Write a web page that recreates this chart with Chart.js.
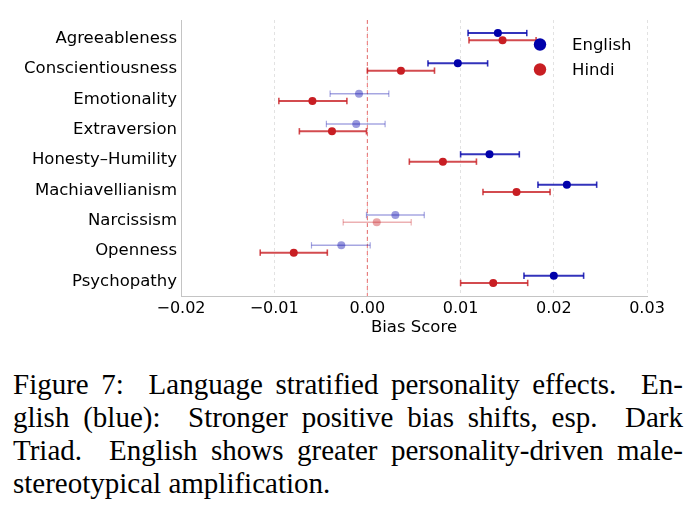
<!DOCTYPE html>
<html><head><meta charset="utf-8">
<script src="https://cdn.jsdelivr.net/npm/chart.js@4.4.0/dist/chart.umd.min.js"></script>
<style>
html,body{margin:0;padding:0;background:#fff;}
#wrap{position:relative;width:692px;height:525px;overflow:hidden;background:#fff;}
#cv{position:absolute;left:0;top:0;width:692px;height:345px;}
.cap{position:absolute;left:13px;width:670px;font-family:"Liberation Serif","Times New Roman",serif;font-size:29px;line-height:33px;color:#000;text-align:justify;text-align-last:justify;}
.last{text-align-last:left;}
</style></head><body>
<div id="wrap">
<div id="cv"><canvas id="c"></canvas></div>
<div class="cap" style="top:368px">Figure 7:&nbsp; Language stratified personality effects.&nbsp; En-</div>
<div class="cap" style="top:401px">glish (blue):&nbsp; Stronger positive bias shifts, esp.&nbsp; Dark</div>
<div class="cap" style="top:434px">Triad.&nbsp; English shows greater personality-driven male-</div>
<div class="cap last" style="top:467px">stereotypical amplification.</div>
</div>
<script>
const categories = ['Agreeableness','Conscientiousness','Emotionality','Extraversion','Honesty–Humility','Machiavellianism','Narcissism','Openness','Psychopathy'];
const englishMean = [0.0140, 0.0097, -0.0009, -0.0012, 0.0131, 0.0214, 0.0030, -0.0028, 0.0200];
const englishLow  = [0.0108, 0.0065, -0.0040, -0.0044, 0.0100, 0.0183, -0.0001, -0.0060, 0.0168];
const englishHigh = [0.0171, 0.0129, 0.0023, 0.0019, 0.0163, 0.0246, 0.0061, 0.0003, 0.0232];
const englishSig  = [true, true, false, false, true, true, false, false, true];
const hindiMean = [0.0145, 0.0036, -0.0059, -0.0038, 0.0081, 0.0160, 0.0010, -0.0079, 0.0135];
const hindiLow  = [0.0109, 0.0000, -0.0095, -0.0073, 0.0045, 0.0124, -0.0026, -0.0115, 0.0100];
const hindiHigh = [0.0181, 0.0072, -0.0022, -0.0001, 0.0117, 0.0196, 0.0047, -0.0043, 0.0172];
const hindiSig  = [true, true, true, true, true, true, false, true, true];
const xTickValues = [-0.02, -0.01, 0, 0.01, 0.02, 0.03];
const xTickLabels = ['−0.02', '−0.01', '0.00', '0.01', '0.02', '0.03'];
const seriesNames = ['English', 'Hindi'];

const OFF = 0.12;
const ENG = [0, 0, 170], HIN = [200, 30, 35];
const rgba = (c, a) => `rgba(${c[0]},${c[1]},${c[2]},${a})`;

const datasets = [];
function addSeries(name, col, mean, sig, off) {
  datasets.push({
    label: name,
    data: mean.map((v, i) => ({x: v, y: i + off})),
    backgroundColor: sig.map(s => rgba(col, s ? 1 : 0.4)),
    borderColor: sig.map(s => rgba(col, s ? 1 : 0.4)),
    borderWidth: 0, pointRadius: 4, pointStyle: 'circle', showLine: false, order: 0
  });
}
function addBars(col, mean, low, high, sig, off) {
  mean.forEach((v, i) => {
    const c = rgba(col, sig[i] ? 0.8 : 0.35);
    datasets.push({
      label: '_bar',
      data: [{x: low[i], y: i + off}, {x: high[i], y: i + off}],
      showLine: true, borderColor: c, borderWidth: sig[i] ? 2 : 1.5,
      pointStyle: 'line', rotation: 90, pointRadius: 3.2,
      pointBorderColor: c, pointBorderWidth: sig[i] ? 1.6 : 1.2,
      fill: false, order: 5
    });
  });
}
addSeries(seriesNames[0], ENG, englishMean, englishSig, -OFF);
addSeries(seriesNames[1], HIN, hindiMean, hindiSig, OFF);
addBars(ENG, englishMean, englishLow, englishHigh, englishSig, -OFF);
addBars(HIN, hindiMean, hindiLow, hindiHigh, hindiSig, OFF);

const decor = {
  id: 'decor',
  beforeDatasetsDraw(chart) {
    const {ctx, chartArea: a, scales: {x}} = chart;
    const px = x.getPixelForValue(0);
    ctx.save();
    ctx.strokeStyle = 'rgba(230,60,60,0.6)';
    ctx.lineWidth = 1.2;
    ctx.setLineDash([4, 3]);
    ctx.beginPath(); ctx.moveTo(px, a.top); ctx.lineTo(px, a.bottom); ctx.stroke();
    ctx.restore();
  },
  afterDatasetsDraw(chart) {
    const {ctx, chartArea: a} = chart;
    const cols = [ENG, HIN];
    ctx.save();
    seriesNames.forEach((n, k) => {
      const mx = a.right - 107, my = a.top + 24.5 + k * 25;
      ctx.fillStyle = rgba(cols[k], 1);
      ctx.beginPath(); ctx.arc(mx, my, 6.2, 0, Math.PI * 2); ctx.fill();
      ctx.fillStyle = '#000';
      ctx.font = '16.5px "DejaVu Sans"';
      ctx.textBaseline = 'middle';
      ctx.fillText(n, mx + 32, my + 1);
    });
    ctx.restore();
  }
};

Chart.defaults.font.family = '"DejaVu Sans"';
new Chart(document.getElementById('c'), {
  type: 'scatter',
  data: {datasets},
  plugins: [decor],
  options: {
    responsive: true, maintainAspectRatio: false, animation: false,
    layout: {padding: {left: 0, right: 45, top: 20, bottom: 0}},
    plugins: {legend: {display: false}, tooltip: {enabled: false}},
    events: [],
    scales: {
      x: {
        type: 'linear', min: -0.02, max: 0.03,
        afterBuildTicks: s => { s.ticks = xTickValues.map(v => ({value: v})); },
        afterFit: s => { s.height = 49; },
        ticks: {callback: (v, i) => xTickLabels[i], color: '#000', font: {size: 16}, padding: 3, maxRotation: 0, autoSkip: false},
        grid: {color: '#e2e2e2', lineWidth: 1, drawTicks: false},
        border: {display: true, color: '#c4c4c4', width: 1, dash: [3, 3]},
        title: {display: true, text: 'Bias Score', color: '#000', font: {size: 16.5}, padding: {top: 0, bottom: 7}}
      },
      y: {
        type: 'linear', reverse: true, min: -0.55, max: 8.55,
        afterBuildTicks: s => { s.ticks = categories.map((_, i) => ({value: i})); },
        afterFit: s => { s.width = 181; },
        ticks: {callback: v => categories[v], color: '#000', font: {size: 16.5}, padding: 4, autoSkip: false, labelOffset: 2},
        grid: {color: 'rgba(0,0,0,0)', drawTicks: false},
        border: {display: true, color: '#c4c4c4', width: 1}
      }
    }
  }
});
</script>
</body></html>
